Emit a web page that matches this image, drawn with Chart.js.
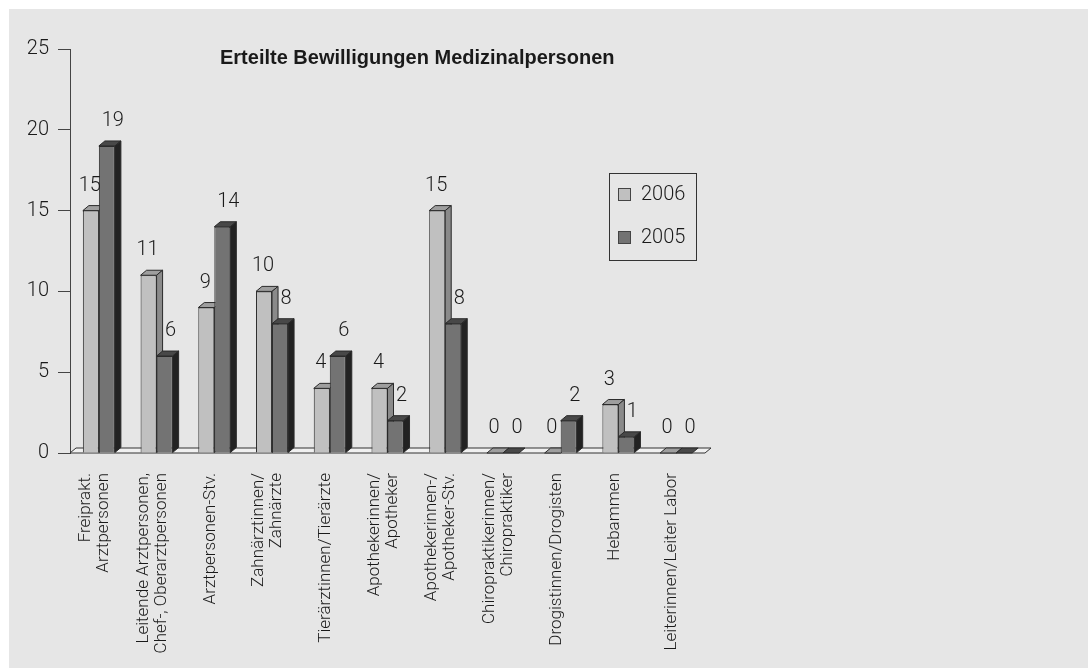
<!DOCTYPE html>
<html>
<head>
<meta charset="utf-8">
<script src="https://cdn.jsdelivr.net/npm/chart.js@4.4.0/dist/chart.umd.min.js"></script>
<style>
    body { margin: 0; background: #fff; }
    canvas { display: block; }
</style>
</head>
<body>
<canvas id="chart" width="1088" height="668"></canvas>
<script>
const categories = [
    ['Freiprakt.', 'Arztpersonen'],
    ['Leitende Arztpersonen,', 'Chef-, Oberarztpersonen'],
    'Arztpersonen-Stv.',
    ['Zahnärztinnen/', 'Zahnärzte'],
    'Tierärztinnen/Tierärzte',
    ['Apothekerinnen/', 'Apotheker'],
    ['Apothekerinnen-/', 'Apotheker-Stv.'],
    ['Chiropraktikerinnen/', 'Chiropraktiker'],
    'Drogistinnen/Drogisten',
    'Hebammen',
    'Leiterinnen/Leiter Labor'
];
const values2006 = [15, 11, 9, 10, 4, 4, 15, 0, 0, 3, 0];
const values2005 = [19, 6, 14, 8, 6, 2, 8, 0, 2, 1, 0];
const seriesNames = ['2006', '2005'];
const yTicks = [0, 5, 10, 15, 20, 25];
const chartTitle = 'Erteilte Bewilligungen Medizinalpersonen';

const FONT = 'Roboto, "Liberation Sans", Arial, sans-serif';
const TITLE_FONT = '"Liberation Sans", Arial, sans-serif';
const DX = 6, DY = 5;
const faces = [
    { front: '#c0c0c0', top: '#9e9e9e', side: '#8a8a8a' },
    { front: '#737373', top: '#484848', side: '#222222' }
];

// grey panel with the thin white margin top/left
const backgroundPlugin = {
    id: 'panel',
    beforeDraw(chart) {
        const ctx = chart.ctx;
        ctx.save();
        ctx.fillStyle = '#ffffff';
        ctx.fillRect(0, 0, chart.width, chart.height);
        ctx.fillStyle = '#e6e6e6';
        ctx.fillRect(9, 9, chart.width - 9, chart.height - 9);
        ctx.restore();
    }
};

// floor + top/side faces, drawn before the fronts so the next bar covers them
const depthPlugin = {
    id: 'depth',
    beforeDatasetsDraw(chart) {
        const ctx = chart.ctx;
        const area = chart.chartArea;
        const b = chart.scales.y.getPixelForValue(0);
        ctx.save();
        ctx.lineWidth = 1;
        ctx.strokeStyle = '#333';
        ctx.fillStyle = '#f0f0f0';
        ctx.beginPath();
        ctx.moveTo(area.left, b);
        ctx.lineTo(area.left + DX, b - DY);
        ctx.lineTo(area.right + DX, b - DY);
        ctx.lineTo(area.right, b);
        ctx.closePath();
        ctx.fill();
        ctx.stroke();

        chart.data.datasets.forEach((ds, di) => {
            chart.getDatasetMeta(di).data.forEach(bar => {
                const p = bar.getProps(['x', 'y', 'base', 'width'], true);
                const l = p.x - p.width / 2, r = p.x + p.width / 2;
                ctx.strokeStyle = '#2a2a2a';
                // top
                ctx.fillStyle = faces[di].top;
                ctx.beginPath();
                ctx.moveTo(l, p.y);
                ctx.lineTo(l + DX, p.y - DY);
                ctx.lineTo(r + DX, p.y - DY);
                ctx.lineTo(r, p.y);
                ctx.closePath();
                ctx.fill();
                ctx.stroke();
                // side
                if (p.base - p.y > 0.5) {
                    ctx.fillStyle = faces[di].side;
                    ctx.beginPath();
                    ctx.moveTo(r, p.y);
                    ctx.lineTo(r + DX, p.y - DY);
                    ctx.lineTo(r + DX, p.base - DY);
                    ctx.lineTo(r, p.base);
                    ctx.closePath();
                    ctx.fill();
                    ctx.stroke();
                }
            });
        });
        ctx.restore();
    }
};

const textPlugin = {
    id: 'texts',
    afterDatasetsDraw(chart) {
        const ctx = chart.ctx;
        const xs = chart.scales.x;
        const area = chart.chartArea;
        ctx.save();
        ctx.fillStyle = '#1a1a1a';

        // value labels
        ctx.font = '300 20px ' + FONT;
        ctx.textAlign = 'center';
        ctx.textBaseline = 'middle';
        const shift = [-1, 6];
        chart.data.datasets.forEach((ds, di) => {
            chart.getDatasetMeta(di).data.forEach((bar, i) => {
                ctx.fillText(String(ds.data[i]), bar.x + shift[di], bar.y - 25);
            });
        });

        // category labels, rotated
        ctx.font = '300 17px ' + FONT;
        ctx.textAlign = 'right';
        categories.forEach((lab, i) => {
            const lines = Array.isArray(lab) ? lab : [lab];
            const cx = xs.getPixelForValue(i) - 4;
            lines.forEach((line, k) => {
                const x = cx + (k - (lines.length - 1) / 2) * 18;
                ctx.save();
                ctx.translate(x, area.bottom + 20);
                ctx.rotate(-Math.PI / 2);
                ctx.fillText(line, 0, 0);
                ctx.restore();
            });
        });

        // title
        ctx.font = 'bold 20px ' + TITLE_FONT;
        ctx.textAlign = 'left';
        ctx.fillText(chartTitle, 220, 58);

        // legend box
        ctx.strokeStyle = '#333';
        ctx.lineWidth = 1;
        ctx.strokeRect(609.5, 173.5, 87, 87);
        ctx.font = '300 20px ' + FONT;
        seriesNames.forEach((name, i) => {
            const y = 195 + i * 43;
            ctx.fillStyle = faces[i].front;
            ctx.fillRect(618.5, y - 6.5, 12, 12);
            ctx.strokeStyle = '#444';
            ctx.strokeRect(618.5, y - 6.5, 12, 12);
            ctx.fillStyle = '#1a1a1a';
            ctx.fillText(name, 641, y);
        });
        ctx.restore();
    }
};

new Chart(document.getElementById('chart'), {
    type: 'bar',
    data: {
        labels: categories,
        datasets: [
            { label: seriesNames[0], data: values2006, backgroundColor: faces[0].front },
            { label: seriesNames[1], data: values2005, backgroundColor: faces[1].front }
        ]
    },
    options: {
        responsive: false,
        animation: false,
        layout: { padding: { top: 49, right: 383, bottom: 0, left: 0 } },
        datasets: {
            bar: {
                categoryPercentage: 0.555,
                barPercentage: 1,
                borderWidth: 1,
                borderColor: '#2a2a2a'
            }
        },
        plugins: {
            legend: { display: false },
            title: { display: false },
            tooltip: { enabled: false }
        },
        scales: {
            x: {
                grid: { display: false },
                border: { display: false },
                ticks: { display: false },
                afterFit: s => { s.height = 215; }
            },
            y: {
                min: 0,
                max: 25,
                afterBuildTicks: s => { s.ticks = yTicks.map(v => ({ value: v })); },
                ticks: { color: '#1a1a1a', font: { family: FONT, size: 20, weight: '300' }, padding: 9 },
                grid: { drawOnChartArea: false, tickLength: 12, color: '#444' },
                border: { color: '#444' },
                afterFit: s => { s.width = 70; }
            }
        }
    },
    plugins: [backgroundPlugin, depthPlugin, textPlugin]
});
</script>
</body>
</html>
